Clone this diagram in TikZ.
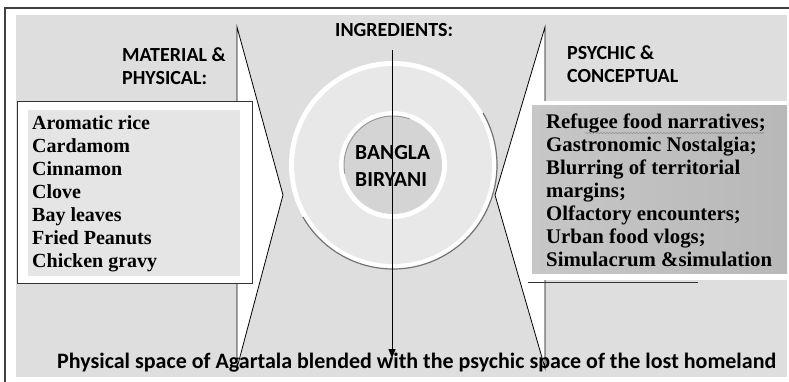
\documentclass[tikz,border=0pt]{standalone}
\usepackage{fontspec}
\setmainfont{Liberation Serif}
\newfontfamily\headfont{Carlito}[BoldFont={Carlito Bold}]
\usetikzlibrary{arrows.meta,decorations.pathmorphing}
\definecolor{panelgray}{gray}{0.87}
\definecolor{ringgray}{gray}{0.91}
\definecolor{coregray}{gray}{0.83}
\definecolor{listgray}{gray}{0.90}
\tikzset{
  heading/.style={font=\headfont\bfseries\fontsize{20}{23}\selectfont, inner sep=0pt, align=left, anchor=north west},
  coretext/.style={heading, font=\headfont\bfseries\fontsize{21.5}{27}\selectfont},
  bottomtext/.style={heading, font=\headfont\bfseries\fontsize{22}{26}\selectfont, anchor=base west},
  listtext/.style={font=\bfseries\fontsize{20}{23}\selectfont, inner sep=0pt, align=left, anchor=north west},
}
\begin{document}
\begin{tikzpicture}[x=1pt,y=-1pt]
	\useasboundingbox (0,0) rectangle (789,381);
	\clip (0,0) rectangle (789,381);
	
	\draw[black!75, line width=1.2pt] (5,400) -- (5,8) -- (800,8);
	\fill[panelgray] (16,15) rectangle (787,377);
	
	% concentric rings
	\fill[white] (393,165) circle (104);
	\draw[black!55, line width=1.2pt] (393,165) ++(-30:104) arc[start angle=-30, end angle=150, radius=104];
	\fill[ringgray] (393,165) circle (99);
	\fill[white] (393,165) circle (54);
	\fill[coregray] (393,165) circle (49);
	\draw[black!40, line width=1pt] (393,165) ++(170:49) arc[start angle=170, end angle=290, radius=49];
	
	\filldraw[fill=white, draw=black, line width=0.8pt] (237,27) -- (283,195) -- (237,368) -- cycle;
	\filldraw[fill=white, draw=black, line width=0.8pt] (545,27) -- (495,195) -- (545,368) -- cycle;
	
	\filldraw[fill=white, draw=black!80, line width=1pt] (17,101) rectangle (252,283);
	\fill[listgray] (28,110) rectangle (240,276);
	\fill[white] (528,101) rectangle (789,280);
	\shade[left color=black!22, right color=black!28] (532,105) rectangle (787,273);
	\draw[black!80, line width=1pt] (528,282) -- (698,282);
	
	\node[heading] (ingr) at (335,23) {INGREDIENTS:};
	\node[heading] (matphys) at (122,47) {MATERIAL \&\\PHYSICAL:};
	\node[heading] (psycon) at (567,45) {PSYCHIC \&\\CONCEPTUAL};
	\node[coretext] (biryani) at (355,145) {BANGLA\\BIRYANI};
	
	\node[listtext] (matlist) at (32,115) {Aromatic rice\\Cardamom\\Cinnamon\\Clove\\Bay leaves\\Fried Peanuts\\Chicken gravy};
	\node[listtext, font=\bfseries\fontsize{20.8}{23}\selectfont] (psylist) at (546,114) {Refugee food narratives;\\Gastronomic Nostalgia;\\Blurring of territorial\\margins;\\Olfactory encounters;\\Urban food vlogs;\\Simulacrum \&simulation};
	\draw[black!45, decorate, decoration={snake, amplitude=0.8pt, segment length=3pt}] (585,133) -- (765,133);
	
	\coordinate (arrowtop) at (392,50);
	\coordinate (arrowtip) at (392,358);
	\draw[-{Triangle[length=9pt,width=7pt]}, line width=0.8pt] (arrowtop) -- (arrowtip);
	
	\node[bottomtext] (spaces) at (57,368) {Physical space of Agartala blended with the psychic space of the lost homeland};
\end{tikzpicture}
\end{document}
